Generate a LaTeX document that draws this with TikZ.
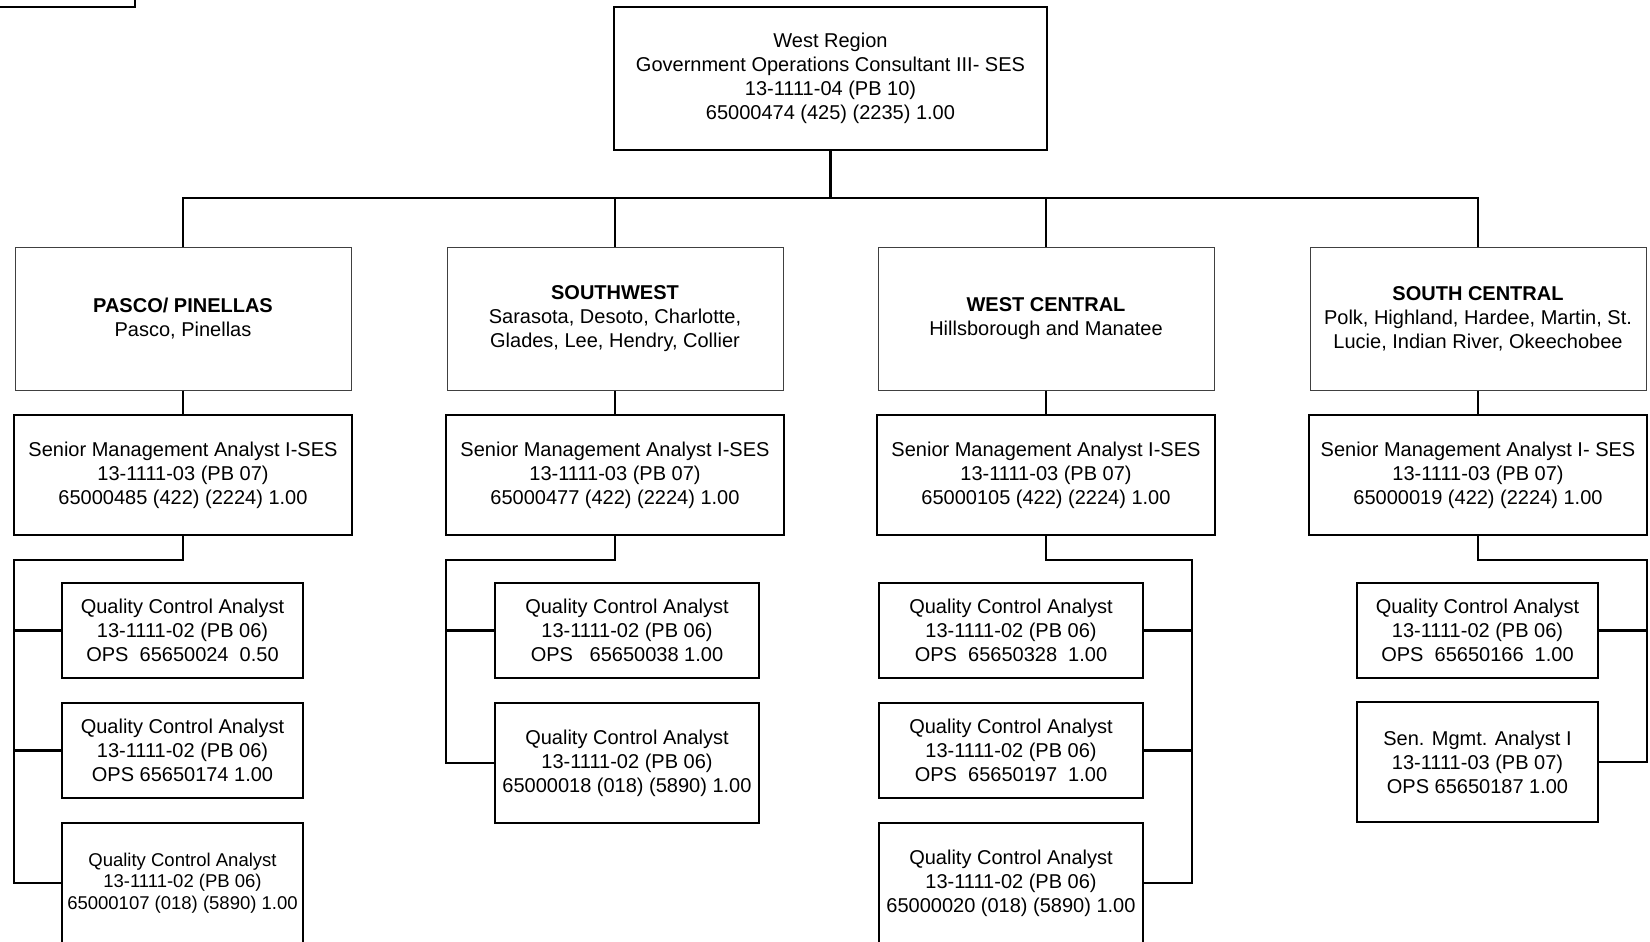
\documentclass[tikz,border=0pt]{standalone}
\usepackage{fontspec}
\setmainfont{Liberation Sans}
\usetikzlibrary{positioning}
\tikzstyle{head} = [rectangle, minimum width=433pt, minimum height=143pt, inner sep=0pt, align=center, draw=black, line width=2.6pt]
\tikzstyle{region} = [rectangle, minimum width=336pt, minimum height=143pt, inner sep=0pt, align=center, draw=black!75, line width=1pt]
\tikzstyle{senior} = [rectangle, minimum width=338pt, minimum height=120pt, inner sep=0pt, align=center, draw=black, line width=2.6pt]
\tikzstyle{staff} = [rectangle, minimum width=241pt, minimum height=95pt, inner sep=0pt, align=center, draw=black, line width=2.6pt]
\tikzstyle{wide} = [staff, minimum width=264pt]
\tikzstyle{tall} = [minimum height=120pt]
\tikzstyle{conn} = [line width=2.8pt]

\begin{document}
\begin{tikzpicture}[x=1pt, y=-1pt, node distance=156.5pt, font=\fontsize{20}{24}\selectfont]
  \useasboundingbox (0,0) rectangle (1650,942);
  % corner of the box above, cut off by the page
  \draw [line width=2.6pt] (-20,-40) rectangle (135,7);

  \node (west) [head] at (830.5,78.5) {West Region\\Government Operations Consultant III- SES\\13-1111-04 (PB 10)\\65000474 (425) (2235) 1.00};

  % regions
  \node (pasco) [region] at (183,318.5) {\textbf{PASCO/ PINELLAS}\\Pasco, Pinellas};
  \node (sw) [region] at (615,318.5) {\textbf{SOUTHWEST}\\Sarasota, Desoto, Charlotte,\\Glades, Lee, Hendry, Collier};
  \node (wc) [region] at (1046,318.5) {\textbf{WEST CENTRAL}\\Hillsborough and Manatee};
  \node (sc) [region] at (1478,318.5) {\textbf{SOUTH CENTRAL}\\Polk, Highland, Hardee, Martin, St.\\Lucie, Indian River, Okeechobee};

  % senior analysts
  \node (pascosen) [senior, below of=pasco] {Senior Management Analyst I-SES\\13-1111-03 (PB 07)\\65000485 (422) (2224) 1.00};
  \node (swsen) [senior, below of=sw] {Senior Management Analyst I-SES\\13-1111-03 (PB 07)\\65000477 (422) (2224) 1.00};
  \node (wcsen) [senior, below of=wc] {Senior Management Analyst I-SES\\13-1111-03 (PB 07)\\65000105 (422) (2224) 1.00};
  \node (scsen) [senior, below of=sc] {Senior Management Analyst I- SES\\13-1111-03 (PB 07)\\65000019 (422) (2224) 1.00};

  % staff
  \node (pqc1) [staff] at (182.5,630.5) {Quality Control Analyst\\13-1111-02 (PB 06)\\OPS\ \ 65650024\ \ 0.50};
  \node (pqc2) [staff] at (182.5,750.5) {Quality Control Analyst\\13-1111-02 (PB 06)\\OPS 65650174 1.00};
  \node (pqc3) [staff, tall, font=\fontsize{18.5}{21.6}\selectfont] at (182.5,883) {Quality Control Analyst\\13-1111-02 (PB 06)\\65000107 (018) (5890) 1.00};

  \node (sqc1) [wide] at (627,630.5) {Quality Control Analyst\\13-1111-02 (PB 06)\\OPS\ \ \ 65650038 1.00};
  \node (sqc2) [wide, tall] at (627,763) {Quality Control Analyst\\13-1111-02 (PB 06)\\65000018 (018) (5890) 1.00};

  \node (wqc1) [wide] at (1011,630.5) {Quality Control Analyst\\13-1111-02 (PB 06)\\OPS\ \ 65650328\ \ 1.00};
  \node (wqc2) [wide] at (1011,750.5) {Quality Control Analyst\\13-1111-02 (PB 06)\\OPS\ \ 65650197\ \ 1.00};
  \node (wqc3) [wide, tall] at (1011,883) {Quality Control Analyst\\13-1111-02 (PB 06)\\65000020 (018) (5890) 1.00};

  \node (cqc1) [staff] at (1477.5,630.5) {Quality Control Analyst\\13-1111-02 (PB 06)\\OPS\ \ 65650166\ \ 1.00};
  \node (cqc2) [staff, tall] at (1477.5,762) {Sen. Mgmt. Analyst I\\13-1111-03 (PB 07)\\OPS 65650187 1.00};

  % bus lines
  \coordinate (hub) at (830.5,198);
  \coordinate (pbus) at (14,560);
  \coordinate (sbus) at (446,560);
  \coordinate (wbus) at (1192,560);
  \coordinate (cbus) at (1647,560);

  \draw [conn] (west.south) -- (hub);
  \foreach \r in {pasco, sw, wc, sc}
    \draw [conn] (\r.north) |- (hub);
  \draw [conn] (pasco) -- (pascosen);
  \draw [conn] (sw) -- (swsen);
  \draw [conn] (wc) -- (wcsen);
  \draw [conn] (sc) -- (scsen);

  \draw [conn] (pascosen.south) |- (pbus) |- (pqc3.west);
  \draw [conn] (pqc1.west) -- (pqc1.west -| pbus);
  \draw [conn] (pqc2.west) -- (pqc2.west -| pbus);

  \draw [conn] (swsen.south) |- (sbus) |- (sqc2.west);
  \draw [conn] (sqc1.west) -- (sqc1.west -| sbus);

  \draw [conn] (wcsen.south) |- (wbus) |- (wqc3.east);
  \draw [conn] (wqc1.east) -- (wqc1.east -| wbus);
  \draw [conn] (wqc2.east) -- (wqc2.east -| wbus);

  \draw [conn] (scsen.south) |- (cbus) |- (cqc2.east);
  \draw [conn] (cqc1.east) -- (cqc1.east -| cbus);
\end{tikzpicture}
\end{document}
